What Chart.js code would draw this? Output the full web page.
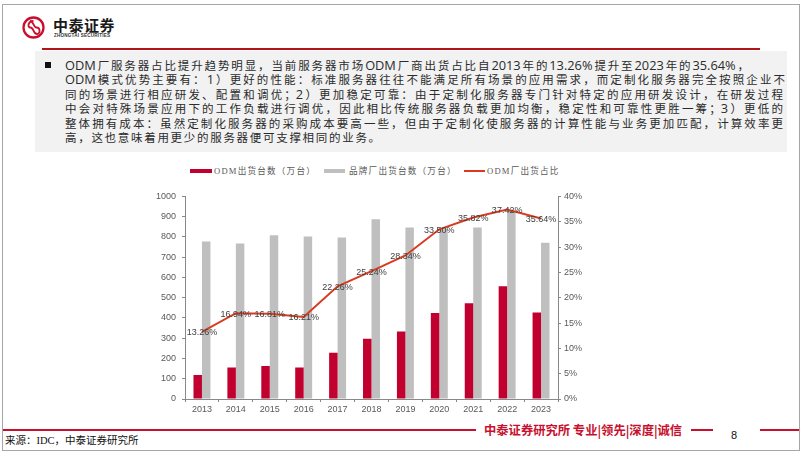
<!DOCTYPE html>
<html>
<head>
<meta charset="utf-8">
<script src="https://cdn.jsdelivr.net/npm/chart.js@4/dist/chart.umd.min.js"></script>
<style>
  body { margin: 0; background: #fff; width: 802px; height: 452px; position: relative; overflow: hidden; font-family: "Noto Sans CJK SC", sans-serif; }
  .abs { position: absolute; }
  #frame { left: 2px; top: 4px; width: 796px; height: 445px; border: 1px solid #a6a6a6; }
  #brand { left: 53px; top: 16px; font-size: 15px; font-weight: 700; color: #1a1a1a; letter-spacing: 0.5px; line-height: 17px; }
  #brandEn { left: 54px; top: 33px; font-family: "Liberation Sans", sans-serif; font-size: 4.6px; font-weight: 700; color: #333; letter-spacing: 0.2px; }
  #topLine { left: 42px; top: 48px; width: 718px; height: 2px; background: #b3141c; }
  #box { left: 35px; top: 51px; width: 752px; height: 101px; background: #f2f2f2; }
  #bullet { left: 45px; top: 62px; width: 6px; height: 6px; background: #111; }
  .row { position: absolute; left: 65px; height: 13px; line-height: 13px; font-size: 11.5px; color: #2b2b2b; white-space: nowrap; }
  .just { text-align: justify; text-align-last: justify; }
  .l { font-family: "Open Sans", sans-serif; font-size: 12.8px; letter-spacing: 0; }
  #legend { left: 0; top: 164px; width: 802px; height: 14px; font-size: 8.6px; color: #595959; font-family: "Liberation Serif", "Noto Sans CJK SC", serif; }
  .lg { position: absolute; top: 0; line-height: 14px; white-space: nowrap; letter-spacing: 1.2px; }
  .sw { position: absolute; }
  #chart { left: 140px; top: 185px; }
  #footLineL { left: 3px; top: 429px; width: 473px; height: 2px; background: #c8102e; }
  #footText { left: 484px; top: 422px; font-size: 12.3px; font-weight: 700; color: #c8102e; line-height: 16px; white-space: nowrap; }
  #footDash { left: 691px; top: 429px; width: 22px; height: 2px; background: #c8102e; }
  #footLineR { left: 760px; top: 429px; width: 39px; height: 2px; background: #c8102e; }
  #pageNo { left: 731px; top: 429px; font-family: "Liberation Sans", sans-serif; font-size: 11px; color: #111; }
  #source { left: 5px; top: 432px; font-size: 10.5px; color: #111; font-family: "Liberation Serif", "Noto Sans CJK SC", serif; white-space: nowrap; }
</style>
</head>
<body>
<div id="frame" class="abs"></div>
<svg class="abs" style="left:21px;top:15px" width="26" height="26" viewBox="0 0 26 26">
  <circle cx="12.5" cy="12.5" r="10" fill="none" stroke="#c8102e" stroke-width="2.3"/>
  <path d="M12.5 6 C7 6 6 12.5 9.5 12.5 C13 12.5 12 19 16 19 C19.5 19 19.5 12.5 15.5 12.5 C12 12.5 13 6 9 6" fill="none" stroke="#c8102e" stroke-width="1.8"/>
</svg>
<div id="brand" class="abs">中泰证券</div>
<div id="brandEn" class="abs">ZHONGTAI SECURITIES</div>
<div id="topLine" class="abs"></div>
<div id="box" class="abs"></div>
<div id="bullet" class="abs"></div>
<div class="row just" style="top:58.5px;width:684px"><span class="l">ODM</span>厂服务器占比提升趋势明显，当前服务器市场<span class="l">ODM</span>厂商出货占比自<span class="l">2013</span>年的<span class="l">13.26%</span>提升至<span class="l">2023</span>年的<span class="l">35.64%</span>，</div>
<div class="row just" style="top:73px;width:720px"><span class="l">ODM</span>模式优势主要有：<span class="l">1</span>）更好的性能：标准服务器往往不能满足所有场景的应用需求，而定制化服务器完全按照企业不</div>
<div class="row just" style="top:87.5px;width:718px">同的场景进行相应研发、配置和调优；<span class="l">2</span>）更加稳定可靠：由于定制化服务器专门针对特定的应用研发设计，在研发过程</div>
<div class="row just" style="top:102px;width:718px">中会对特殊场景应用下的工作负载进行调优，因此相比传统服务器负载更加均衡，稳定性和可靠性更胜一筹；<span class="l">3</span>）更低的</div>
<div class="row just" style="top:116.5px;width:718px">整体拥有成本：虽然定制化服务器的采购成本要高一些，但由于定制化使服务器的计算性能与业务更加匹配，计算效率更</div>
<div class="row" style="top:131px;letter-spacing:1.7px">高，这也意味着用更少的服务器便可支撑相同的业务。</div>

<div id="legend" class="abs">
  <div class="sw" style="left:190px;top:5px;width:22px;height:4px;background:#c2002f"></div>
  <div class="lg" style="left:214px">ODM出货台数（万台）</div>
  <div class="sw" style="left:324px;top:5px;width:21px;height:4px;background:#bfbfbf"></div>
  <div class="lg" style="left:349px">品牌厂出货台数（万台）</div>
  <div class="sw" style="left:464px;top:6px;width:21px;height:2px;background:#da3b1f"></div>
  <div class="lg" style="left:487px">ODM厂出货占比</div>
</div>

<canvas id="chart" class="abs" width="468" height="235"></canvas>

<div id="footLineL" class="abs"></div>
<div id="footText" class="abs">中泰证券研究所 专业|领先|深度|诚信</div>
<div id="footDash" class="abs"></div>
<div id="pageNo" class="abs">8</div>
<div id="footLineR" class="abs"></div>
<div id="source" class="abs">来源：IDC，中泰证券研究所</div>

<script>
const years = ['2013', '2014', '2015', '2016', '2017', '2018', '2019', '2020', '2021', '2022', '2023'];
const odmUnits = [119, 155, 163, 155, 228, 298, 333, 425, 473, 556, 427];
const brandUnits = [778, 768, 808, 802, 797, 887, 847, 840, 847, 929, 771];
const odmShare = [13.26, 16.94, 16.81, 16.21, 22.26, 25.24, 28.34, 33.50, 35.82, 37.42, 35.64];

const axisColor = '#898989';
const tickFont = { family: 'Liberation Sans', size: 9 };

// percent labels drawn centred on each line point
const shareLabels = {
    id: 'shareLabels',
    afterDatasetsDraw(chart) {
        const meta = chart.getDatasetMeta(2);
        const ctx = chart.ctx;
        ctx.save();
        ctx.font = '9px "Liberation Sans"';
        ctx.fillStyle = '#404040';
        ctx.textAlign = 'center';
        ctx.textBaseline = 'middle';
        meta.data.forEach((pt, i) => {
            ctx.fillText(odmShare[i].toFixed(2) + '%', pt.x, pt.y + 1);
        });
        ctx.restore();
    }
};

const data = {
    labels: years,
    datasets: [
        {
            type: 'bar',
            label: 'ODM出货台数（万台）',
            data: odmUnits,
            backgroundColor: '#c2002f',
            yAxisID: 'y',
            categoryPercentage: 0.5,
            barPercentage: 1,
            order: 2
        },
        {
            type: 'bar',
            label: '品牌厂出货台数（万台）',
            data: brandUnits,
            backgroundColor: '#bfbfbf',
            yAxisID: 'y',
            categoryPercentage: 0.5,
            barPercentage: 1,
            order: 2
        },
        {
            type: 'line',
            label: 'ODM厂出货占比',
            data: odmShare,
            borderColor: '#da3b1f',
            borderWidth: 2,
            pointRadius: 0,
            tension: 0,
            yAxisID: 'y1',
            order: 1
        }
    ]
};

const chart = new Chart(document.getElementById('chart'), {
    type: 'bar',
    data: data,
    options: {
        responsive: false,
        animation: false,
        devicePixelRatio: 1,
        layout: { padding: { top: 7, bottom: 0, left: 0, right: 0 } },
        plugins: { legend: { display: false }, tooltip: { enabled: false } },
        scales: {
            x: {
                grid: { display: true, drawOnChartArea: false, drawTicks: true, tickLength: 3, color: axisColor, offset: true },
                border: { color: axisColor },
                ticks: { font: tickFont, color: '#595959', padding: 2, maxRotation: 0 },
                afterFit: (s) => { s.height = 21; }
            },
            y: {
                position: 'left',
                min: 0,
                max: 1000,
                grid: { drawOnChartArea: false, tickLength: 3, color: axisColor },
                border: { color: axisColor },
                ticks: { stepSize: 100, font: tickFont, color: '#595959', padding: 6, callback: (v) => String(v) },
                afterFit: (s) => { s.width = 45; }
            },
            y1: {
                position: 'right',
                min: 0,
                max: 40,
                grid: { drawOnChartArea: false, tickLength: 3, color: axisColor },
                border: { color: axisColor },
                ticks: { stepSize: 5, font: tickFont, color: '#595959', padding: 3, callback: (v) => v + '%' },
                afterFit: (s) => { s.width = 50; }
            }
        }
    },
    plugins: [shareLabels]
});
</script>
</body>
</html>
